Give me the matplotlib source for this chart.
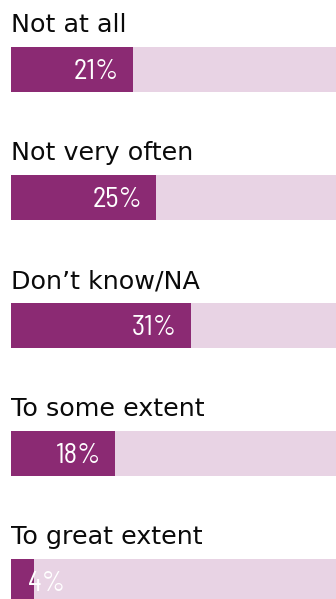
import matplotlib
matplotlib.use("Agg")
import matplotlib.pyplot as plt

categories = ["Not at all", "Not very often", "Don\u2019t know/NA", "To some extent", "To great extent"]
values = [21, 25, 31, 18, 4]

PURPLE = "#8b2a73"
PINK = "#e8d3e4"
X_MAX = 56          # axis span in percent; the pale track fills it
BAR_H = 0.35
MIN_LABEL_X = 11.7  # small values get their label pushed out past the bar

PCT_FONT = ["Barlow Semi Condensed", "Roboto Condensed", "PT Sans Narrow", "DejaVu Sans"]

fig = plt.figure(figsize=(3.36, 5.99), dpi=100)
ax = fig.add_axes([11 / 336, 0, 325 / 336, 1])

pos = list(range(len(categories)))
ax.barh(pos, [X_MAX] * len(pos), height=BAR_H, color=PINK, align="center")
ax.barh(pos, values, height=BAR_H, color=PURPLE, align="center")

for i, (cat, v) in enumerate(zip(categories, values)):
    ax.text(0, i - BAR_H / 2 - 0.117, cat, ha="left", va="baseline",
            fontsize=18.3, color="#0a0a0a", family="DejaVu Sans", clip_on=False)
    ax.text(max(v, MIN_LABEL_X) - 2.4, i + 0.02, f"{v}%", ha="right", va="center",
            fontsize=20.5, color="white", family=PCT_FONT)

ax.set_xlim(0, X_MAX)
ax.set_ylim(len(pos) - 1 + 0.137, -0.543)
ax.axis("off")

fig.savefig("out.png", dpi=100)
